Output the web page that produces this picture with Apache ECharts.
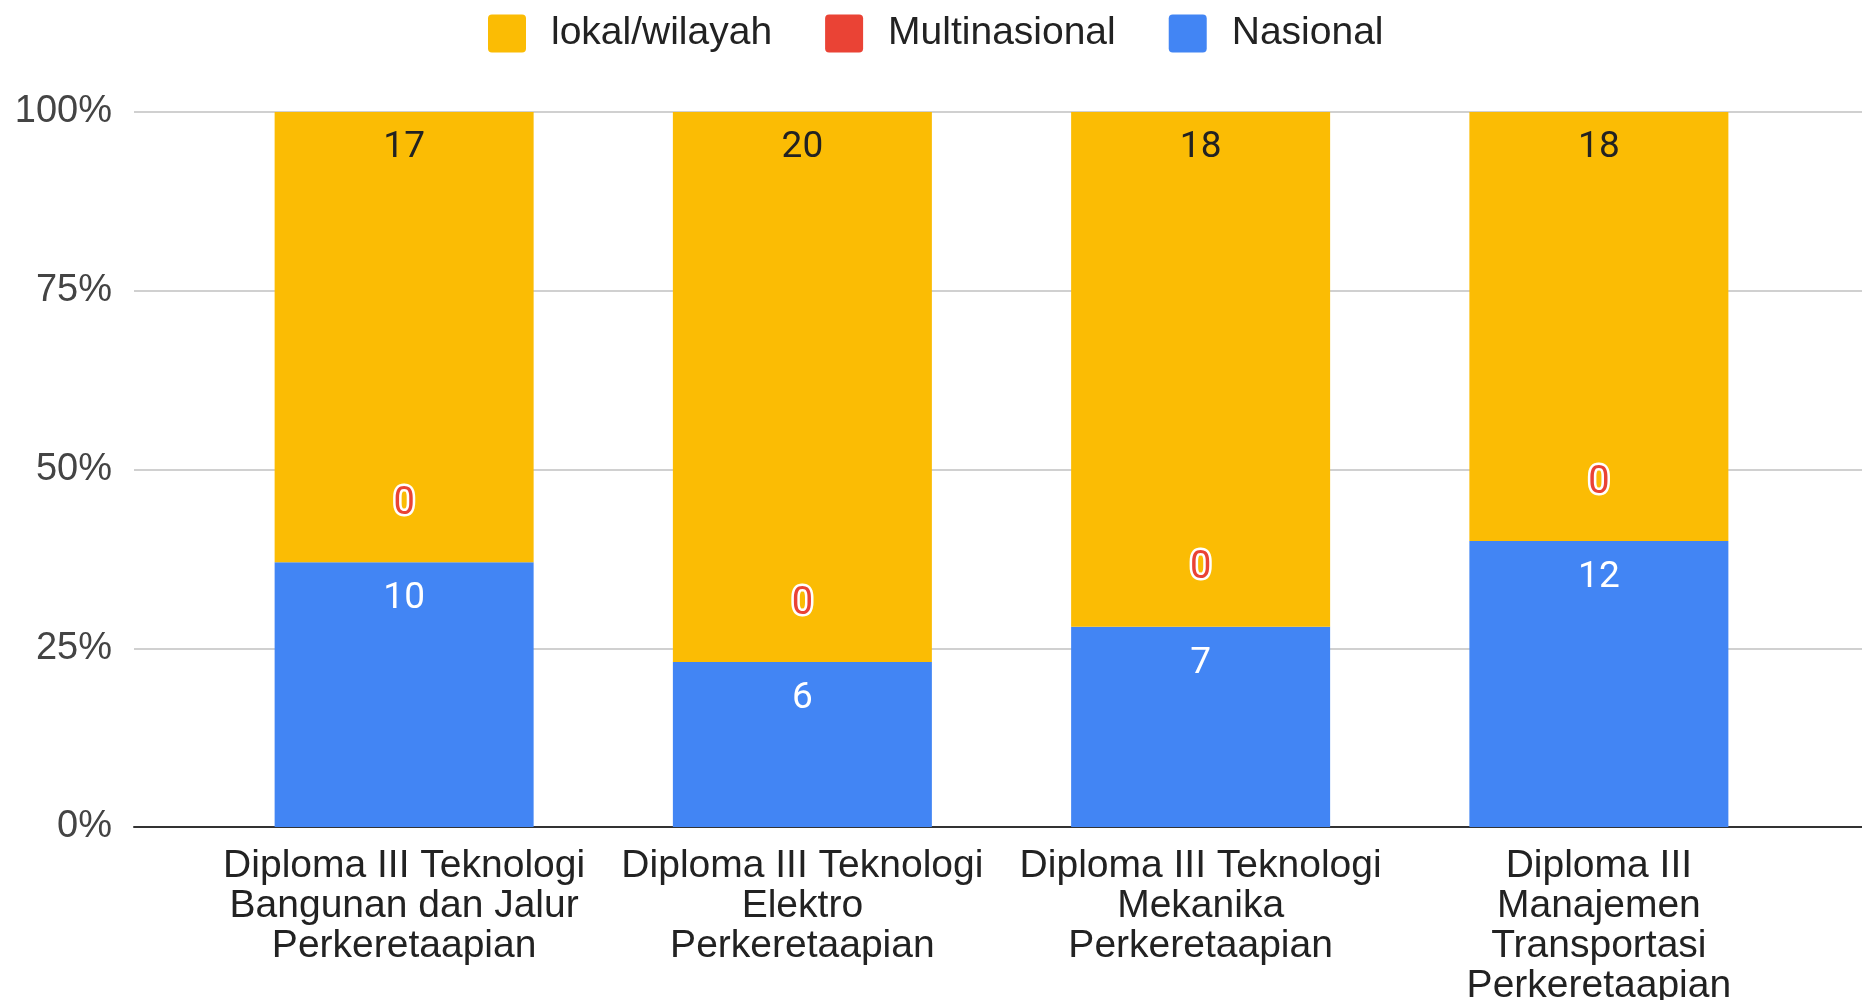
<!DOCTYPE html>
<html>
<head>
<meta charset="utf-8">
<script src="https://cdn.jsdelivr.net/npm/echarts@6/dist/echarts.min.js"></script>
<style>
html,body{margin:0;padding:0;background:#fff;}
#main{width:1862px;height:1000px;}
</style>
</head>
<body>
<div id="main"></div>
<script>
// data
var categories = [
    'Diploma III Teknologi\nBangunan dan Jalur\nPerkeretaapian',
    'Diploma III Teknologi\nElektro\nPerkeretaapian',
    'Diploma III Teknologi\nMekanika\nPerkeretaapian',
    'Diploma III\nManajemen\nTransportasi\nPerkeretaapian'
];
var nasional = [10, 6, 7, 12];
var multinasional = [0, 0, 0, 0];
var lokal = [17, 20, 18, 18];
var yTicks = [0, 25, 50, 75, 100];

var colors = {lokal:'#fbbc04', multi:'#ea4335', nasional:'#4285f4'};

// totals per category, for 100% stacking
var totals = categories.map(function(c, i){
    return nasional[i] + multinasional[i] + lokal[i];
});
function toPct(arr){
    return arr.map(function(v, i){
        return {value: v / totals[i] * 100, raw: v};
    });
}
function rawLabel(p){ return p.data.raw; }

var myChart = echarts.init(document.getElementById('main'));
myChart.setOption({
    animation:false,
    legend:{
        data:['lokal/wilayah','Multinasional','Nasional'],
        left:483,
        top:9,
        icon:'path://M4,0H34Q38,0 38,4V34Q38,38 34,38H4Q0,38 0,34V4Q0,0 4,0Z',
        itemWidth:38,
        itemHeight:38,
        itemGap:53,
        textStyle:{
            fontFamily:'Liberation Sans, Arial',
            fontSize:39,
            color:'#222',
            padding:[0,0,0,20]
        }
    },
    grid:[
        // background grid: gridlines run the full width
        {left:134, right:0, top:112, bottom:173, outerBoundsMode:'none'},
        // bar grid
        {left:205, right:64, top:112, bottom:173, outerBoundsMode:'none'}
    ],
    xAxis:[
        {
            gridIndex:0,
            type:'value',
            min:0, max:1,
            axisLabel:{show:false},
            axisTick:{show:false},
            splitLine:{show:false},
            axisLine:{show:true, lineStyle:{color:'#333', width:2}}
        },
        {
            gridIndex:1,
            type:'category',
            data:categories,
            axisLine:{show:false},
            axisTick:{show:false},
            axisLabel:{
                margin:19,
                interval:0,
                fontFamily:'Liberation Sans, Arial',
                fontSize:39,
                lineHeight:40,
                color:'#222',
                align:'center'
            }
        }
    ],
    yAxis:[
        {
            gridIndex:0,
            type:'value',
            min:0, max:100, interval:25,
            axisLine:{show:false},
            axisTick:{show:false},
            axisLabel:{
                formatter:'{value}%',
                margin:22,
                fontFamily:'Liberation Sans, Arial',
                fontSize:38,
                color:'#444'
            },
            splitLine:{lineStyle:{color:'#d0d0d0', width:2}}
        },
        {
            gridIndex:1,
            type:'value',
            min:0, max:100,
            show:false,
            splitLine:{show:false}
        }
    ],
    series:[
        {
            name:'Nasional',
            type:'bar',
            xAxisIndex:1, yAxisIndex:1,
            stack:'total',
            barWidth:259,
            data:toPct(nasional),
            itemStyle:{color:colors.nasional},
            label:{
                show:true,
                position:'insideTop',
                distance:18,
                formatter:rawLabel,
                fontFamily:'Roboto',
                fontSize:37,
                color:'#fff'
            }
        },
        {
            name:'Multinasional',
            type:'bar',
            xAxisIndex:1, yAxisIndex:1,
            stack:'total',
            barWidth:259,
            data:toPct(multinasional),
            itemStyle:{color:colors.multi},
            label:{
                show:true,
                position:'top',
                distance:39,
                formatter:rawLabel,
                fontFamily:'Roboto',
                fontSize:38,
                color:colors.multi,
                textBorderColor:'#fff',
                textBorderWidth:5
            }
        },
        {
            name:'lokal/wilayah',
            type:'bar',
            xAxisIndex:1, yAxisIndex:1,
            stack:'total',
            barWidth:259,
            data:toPct(lokal),
            itemStyle:{color:colors.lokal},
            label:{
                show:true,
                position:'insideTop',
                distance:17,
                formatter:rawLabel,
                fontFamily:'Roboto',
                fontSize:37,
                color:'#222'
            }
        }
    ]
});
</script>
</body>
</html>
